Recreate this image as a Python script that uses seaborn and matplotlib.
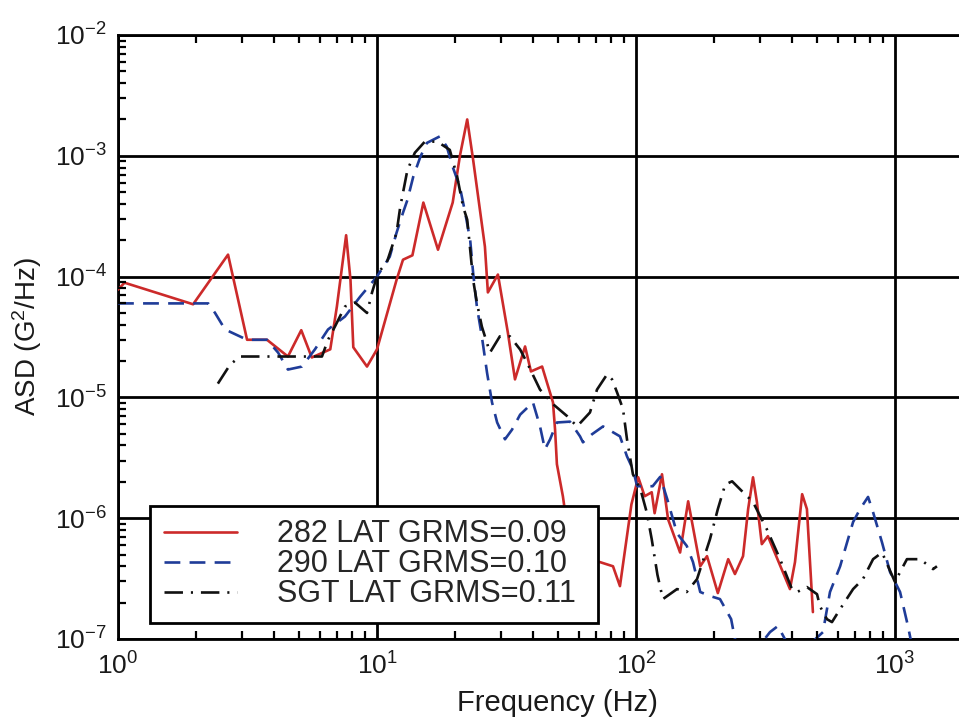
import numpy as np
import pandas as pd
import matplotlib
matplotlib.use("Agg")
import matplotlib.pyplot as plt
from matplotlib.ticker import FixedLocator, FuncFormatter, NullFormatter, NullLocator
from matplotlib.markers import TICKUP, TICKDOWN, TICKRIGHT
import seaborn as sns

# ---- Acceleration spectral density, lateral axis ----
freq_282 = [1.0, 1.06, 1.95, 2.66, 3.15, 3.76, 4.53, 5.1, 5.6, 6.6, 7.0, 7.6, 7.9, 8.1,
            9.15, 10.0, 11.9, 12.6, 13.7, 15.1, 17.2, 19.6, 20.9, 22.3, 23.5, 26.1, 26.8,
            29.3, 32.0, 34.1, 37.3, 39.3, 43.4, 47.8, 48.7, 49.5, 52.2, 54.2, 62.0, 72.6,
            81.5, 86.7, 96.0, 102, 108, 115, 118, 126, 133, 148, 159, 177, 188, 207, 227,
            241, 259, 271, 283, 293, 306, 323, 393, 411, 438, 457, 482]
asd_282 = [7.8e-5, 8.9e-5, 5.9e-5, 1.52e-4, 3.0e-5, 3.0e-5, 2.18e-5, 3.6e-5, 2.14e-5,
           2.5e-5, 5.65e-5, 2.2e-4, 9.4e-5, 2.6e-5, 1.8e-5, 2.5e-5, 9.4e-5, 1.38e-4,
           1.5e-4, 4.1e-4, 1.67e-4, 4.1e-4, 1.0e-3, 2.0e-3, 9.3e-4, 1.77e-4, 7.4e-5,
           1.04e-4, 3.45e-5, 1.41e-5, 2.64e-5, 1.64e-5, 1.8e-5, 9.1e-6, 5.4e-6, 2.8e-6,
           1.52e-6, 8.6e-7, 4.6e-7, 4.33e-7, 4.0e-7, 2.74e-7, 1.3e-6, 2.18e-6, 1.52e-6,
           1.64e-6, 1.1e-6, 2.31e-6, 9.8e-7, 5.2e-7, 1.38e-6, 4.0e-7, 4.85e-7, 2.4e-7,
           4.58e-7, 3.45e-7, 4.85e-7, 1.19e-6, 2.18e-6, 1.36e-6, 6.1e-7, 7.1e-7, 2.59e-7,
           4.33e-7, 1.58e-6, 1.19e-6, 1.67e-7]

freq_290 = [1.0, 2.23, 2.37, 2.59, 3.15, 3.76, 4.15, 4.53, 5.13, 5.76, 6.47, 7.52, 8.6,
            10.0, 11.2, 11.9, 12.6, 13.1, 13.8, 14.7, 15.6, 17.5, 18.6, 19.6, 20.9, 21.9,
            22.9, 23.5, 24.3, 25.4, 26.6, 27.8, 29.1, 31.2, 33.2, 35.7, 40.0, 42.6, 44.5,
            46.6, 49.5, 55.6, 60.8, 62.4, 67.6, 74.6, 86.7, 92.3, 97.3, 101, 116, 124,
            132, 144, 157, 166, 177, 193, 211, 233, 241, 276, 329, 353, 411, 527, 561,
            614, 653, 689, 733, 787, 823, 891, 957, 1046, 1122, 1160]
asd_290 = [6.0e-5, 6.0e-5, 5.0e-5, 3.65e-5, 3.0e-5, 3.0e-5, 2.35e-5, 1.7e-5, 1.8e-5,
           2.5e-5, 3.65e-5, 4.67e-5, 6.8e-5, 1.0e-4, 1.46e-4, 2.31e-4, 3.38e-4, 4.3e-4,
           6.7e-4, 9.8e-4, 1.28e-3, 1.45e-3, 1.19e-3, 8.1e-4, 5.5e-4, 3.38e-4, 2.0e-4,
           1.08e-4, 5.65e-5, 3.2e-5, 1.6e-5, 9.1e-6, 6.2e-6, 4.5e-6, 5.4e-6, 7.2e-6,
           9.1e-6, 5.75e-6, 3.72e-6, 4.5e-6, 6.2e-6, 6.3e-6, 4.76e-6, 4.25e-6, 4.95e-6,
           5.75e-6, 4.76e-6, 3.25e-6, 2.54e-6, 1.84e-6, 1.84e-6, 2.2e-6, 1.44e-6, 7.5e-7,
           5.9e-7, 4.33e-7, 2.45e-7, 2.27e-7, 2.14e-7, 1.46e-7, 1.0e-7, 7.0e-8, 1.14e-7,
           1.28e-7, 7.0e-8, 1.14e-7, 2.45e-7, 4.0e-7, 6.3e-7, 9.3e-7, 1.19e-6, 1.5e-6,
           1.12e-6, 6.3e-7, 3.58e-7, 2.45e-7, 1.28e-7, 9.0e-8]

freq_sgt = [2.43, 2.71, 2.96, 5.13, 6.13, 6.47, 6.88, 7.52, 8.22, 9.15, 9.57, 10.1, 10.9,
            11.9, 12.3, 13.1, 14.0, 15.3, 17.1, 19.1, 20.4, 21.5, 22.3, 22.9, 23.5, 24.3,
            25.4, 27.3, 29.8, 32.6, 35.7, 37.9, 42.6, 47.8, 54.2, 59.2, 66.4, 70.7, 77.3,
            80.8, 84.5, 89.1, 92.3, 97.3, 104, 110, 115, 121, 127, 144, 157, 172, 193, 207,
            221, 235, 259, 283, 320, 360, 400, 419, 457, 500, 513, 546, 571, 614, 689, 752,
            823, 891, 915, 1000, 1046, 1112, 1250, 1403, 1452]
asd_sgt = [1.3e-5, 1.87e-5, 2.18e-5, 2.18e-5, 2.18e-5, 3.0e-5, 3.86e-5, 5.65e-5, 6.1e-5,
           5.0e-5, 7.4e-5, 1.08e-4, 1.3e-4, 2.31e-4, 3.79e-4, 7.6e-4, 1.06e-3, 1.31e-3,
           1.31e-3, 1.12e-3, 6.7e-4, 3.79e-4, 2.96e-4, 1.67e-4, 9.4e-5, 6.1e-5, 3.86e-5,
           2.35e-5, 3.2e-5, 3.2e-5, 2.49e-5, 1.95e-5, 1.16e-5, 8.8e-6, 7.0e-6, 5.75e-6,
           7.5e-6, 1.16e-5, 1.55e-5, 1.41e-5, 1.1e-5, 8.0e-6, 4.5e-6, 2.31e-6, 1.74e-6,
           1.12e-6, 6.7e-7, 3.4e-7, 2.14e-7, 2.59e-7, 2.45e-7, 3.13e-7, 6.7e-7, 1.19e-6,
           1.9e-6, 2.02e-6, 1.64e-6, 1.36e-6, 8.1e-7, 4.58e-7, 2.59e-7, 2.45e-7, 2.69e-7,
           2.35e-7, 1.87e-7, 1.46e-7, 1.38e-7, 1.77e-7, 2.59e-7, 3.13e-7, 4.58e-7, 5.2e-7,
           4.58e-7, 2.96e-7, 3.58e-7, 4.58e-7, 4.58e-7, 3.79e-7, 4.0e-7]

series_labels = ["282 LAT GRMS=0.09", "290 LAT GRMS=0.10", "SGT LAT GRMS=0.11"]
y_decades = [-7, -6, -5, -4, -3, -2]
x_decades = [0, 1, 2, 3]

df = pd.concat([
    pd.DataFrame({"freq": freq_282, "asd": asd_282, "series": series_labels[0]}),
    pd.DataFrame({"freq": freq_290, "asd": asd_290, "series": series_labels[1]}),
    pd.DataFrame({"freq": freq_sgt, "asd": asd_sgt, "series": series_labels[2]}),
], ignore_index=True)

sns.set_style("white")
plt.rcParams.update({
    "font.family": ["Liberation Sans", "DejaVu Sans"],
    "mathtext.fontset": "custom",
    "mathtext.rm": "Liberation Sans",
    "mathtext.it": "Liberation Sans",
})

X_MAX = 10 ** ((959 - 118) / 259)

fig = plt.figure(figsize=(9.59, 7.22), dpi=100)
ax = fig.add_axes([118 / 959, 1 - 639 / 722, 1 - 118 / 959, (639 - 35) / 722])

# ---- spectra ----
styles = {
    series_labels[0]: dict(color="#cc2a2a", dashes=None),
    series_labels[1]: dict(color="#1f3c98", dashes=(6, 3.5)),
    series_labels[2]: dict(color="#111111", dashes=(7, 3, 0.8, 3)),
}

handles = []
for lab in series_labels:
    sub = df[df["series"] == lab]
    sns.lineplot(data=sub, x="freq", y="asd", ax=ax, sort=False, estimator=None,
                 color=styles[lab]["color"], linewidth=1.9, label=lab, legend=False,
                 zorder=3)
    line = ax.lines[-1]
    if styles[lab]["dashes"] is not None:
        line.set_dashes(styles[lab]["dashes"])
    handles.append(line)

# ---- axes: log-log, black decade grid ----
ax.set_xscale("log")
ax.set_yscale("log")
ax.set_xlim(1, X_MAX)
ax.set_ylim(1e-7, 1e-2)

ax.xaxis.set_major_locator(FixedLocator([10.0 ** d for d in x_decades]))
ax.yaxis.set_major_locator(FixedLocator([10.0 ** d for d in y_decades]))
ax.xaxis.set_minor_locator(NullLocator())
ax.yaxis.set_minor_locator(NullLocator())
ax.xaxis.set_minor_formatter(NullFormatter())
ax.yaxis.set_minor_formatter(NullFormatter())
fmt = FuncFormatter(lambda v, p: r"$\mathregular{10^{%d}}$" % int(round(np.log10(v))))
ax.xaxis.set_major_formatter(fmt)
ax.yaxis.set_major_formatter(fmt)
ax.set_axisbelow(False)
ax.tick_params(which="major", length=0, labelsize=19, pad=8, labelcolor="#1a1a1a")
ax.tick_params(axis="x", which="major", pad=10)
ax.grid(True, which="major", color="black", linewidth=2.0)

for side in ["left", "bottom", "top"]:
    ax.spines[side].set_visible(True)
    ax.spines[side].set_color("black")
    ax.spines[side].set_linewidth(2.0)
ax.spines["right"].set_visible(False)

# inward minor ticks at 2..9 of every decade (bottom, top and left edges)
x_minor = [m * 10.0 ** d for d in x_decades for m in range(2, 10) if m * 10.0 ** d < X_MAX]
y_minor = [m * 10.0 ** d for d in y_decades[:-1] for m in range(2, 10)]
tick_style = dict(linestyle="none", color="black", markersize=6, markeredgewidth=1.6,
                  clip_on=False, zorder=4)
ax.plot(x_minor, [0.0] * len(x_minor), marker=TICKUP,
        transform=ax.get_xaxis_transform(), **tick_style)
ax.plot(x_minor, [1.0] * len(x_minor), marker=TICKDOWN,
        transform=ax.get_xaxis_transform(), **tick_style)
ax.plot([0.0] * len(y_minor), y_minor, marker=TICKRIGHT,
        transform=ax.get_yaxis_transform(), **tick_style)

ax.set_xlim(1, X_MAX)
ax.set_ylim(1e-7, 1e-2)

ax.set_xlabel("Frequency (Hz)", fontsize=21, labelpad=4, color="#1a1a1a")
ax.xaxis.set_label_coords(0.523, -0.083)
ax.set_ylabel(r"ASD (G$^2$/Hz)", fontsize=20, labelpad=8, color="#1a1a1a")

leg = ax.legend(handles=handles, labels=series_labels, loc="lower left",
                bbox_to_anchor=((150 - 118) / 841, (639 - 623) / 604,
                                (598 - 150) / 841, (623 - 502) / 604),
                mode="expand", fontsize=22, frameon=True, fancybox=False,
                framealpha=1, edgecolor="black", handlelength=2.4,
                handletextpad=1.3, labelspacing=0.0, borderpad=0.45,
                borderaxespad=0)
leg.get_frame().set_linewidth(2.0)
leg.set_zorder(5)

fig.savefig("out.png", dpi=100, facecolor="white")
